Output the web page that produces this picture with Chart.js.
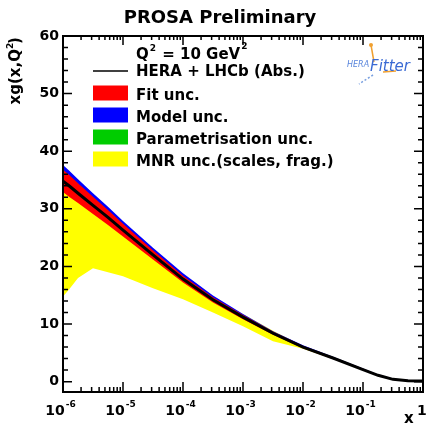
<!DOCTYPE html>
<html>
<head>
<meta charset="utf-8">
<script src="https://cdn.jsdelivr.net/npm/chart.js@4"></script>
<style>
    html, body { margin: 0; padding: 0; background: #fff; }
    #wrap { position: relative; width: 428px; height: 427px; }
</style>
</head>
<body>
<div id="wrap"><canvas id="grafico"></canvas></div>
<script>
// x grid (half decades, denser at the low-x edge)
const xs = [1e-6, 1.26e-6, 1.78e-6, 3.16e-6, 5.62e-6, 1e-5, 3.16e-5, 1e-4, 3.16e-4, 1e-3, 3.16e-3, 1e-2, 3.16e-2, 0.1, 0.178, 0.316, 0.562, 1]

const central    = [34.8, 34.0, 32.7, 30.6, 28.5, 26.3, 22.0, 17.8, 14.2, 11.2, 8.4, 6.0, 4.1, 2.1, 1.1, 0.4, 0.15, 0.1]
const fitUp      = [36.8, 35.9, 34.45, 32.1, 29.8, 27.4, 22.8, 18.4, 14.65, 11.55, 8.65, 6.2, 4.25, 2.22, 1.2, 0.5, 0.25, 0.2]
const fitDown    = [32.9, 32.1, 31.0, 29.1, 27.2, 25.2, 21.2, 17.2, 13.75, 10.85, 8.15, 5.8, 3.95, 1.98, 1.0, 0.3, 0.05, 0.0]
const modelUp    = [37.6, 36.65, 35.15, 32.7, 30.35, 27.9, 23.25, 18.8, 14.95, 11.75, 8.75, 6.3, 4.3, 2.28, 1.24, 0.54, 0.28, 0.22]
const modelDown  = [34.8, 34.0, 32.7, 30.6, 28.5, 26.3, 22.0, 17.8, 14.2, 11.2, 8.4, 6.0, 4.1, 2.1, 1.1, 0.4, 0.15, 0.1]
const parUp      = [35.2, 34.4, 33.1, 31.0, 28.9, 26.7, 22.3, 18.1, 14.4, 11.35, 8.5, 6.08, 4.15, 2.15, 1.13, 0.42, 0.17, 0.12]
const parDown    = [34.4, 33.6, 32.3, 30.2, 28.1, 25.9, 21.7, 17.5, 14.0, 11.05, 8.3, 5.92, 4.05, 2.05, 1.07, 0.38, 0.13, 0.08]
const mnrUp      = [34.8, 34.0, 32.7, 30.6, 28.5, 26.3, 22.0, 17.9, 14.5, 11.75, 8.85, 6.2, 4.2, 2.15, 1.12, 0.42, 0.16, 0.1]
const mnrDown    = [14.8, 16.0, 18.0, 19.7, 19.0, 18.3, 16.2, 14.3, 12.0, 9.6, 7.0, 5.7, 3.95, 2.0, 1.05, 0.35, 0.12, 0.08]

const yTicks = [0, 10, 20, 30, 40, 50, 60]
const xTicks = [1e-6, 1e-5, 1e-4, 1e-3, 1e-2, 1e-1, 1]
const xTickExp = ['-6', '-5', '-4', '-3', '-2', '-1', '']

const legendItems = [
    { label: 'Fit unc.', color: '#ff0000' },
    { label: 'Model unc.', color: '#0000ff' },
    { label: 'Parametrisation unc.', color: '#00cc00' },
    { label: 'MNR unc.(scales, frag.)', color: '#ffff00' }
]

const FONT = "'DejaVu Sans', 'Liberation Sans', Arial, sans-serif"

function pts(arr) {
    return xs.map((x, i) => ({ x: x, y: arr[i] }))
}

function band(up, down, color) {
    return [
        { data: pts(up), fill: '+1', backgroundColor: color, borderColor: 'transparent', borderWidth: 0 },
        { data: pts(down), fill: false, borderColor: 'transparent', borderWidth: 0 }
    ]
}

// index 0 is drawn last (on top)
const datasets = [
    { data: pts(central), borderColor: '#000', borderWidth: 3, fill: false },
    ...band(fitUp, fitDown, legendItems[0].color),
    ...band(parUp, parDown, legendItems[2].color),
    ...band(modelUp, modelDown, legendItems[1].color),
    ...band(mnrUp, mnrDown, legendItems[3].color)
]

const decor = {
    id: 'decor',
    afterDatasetsDraw(chart) {
        const { ctx, chartArea: a, scales: { x, y } } = chart
        ctx.save()
        ctx.strokeStyle = '#000'
        ctx.lineWidth = 1.5
        ctx.beginPath()
        // y ticks, both sides, pointing inward
        for (let v = 0; v <= 60; v += 2) {
            const py = y.getPixelForValue(v)
            const len = v % 10 === 0 ? 9 : 5
            ctx.moveTo(a.left, py); ctx.lineTo(a.left + len, py)
            ctx.moveTo(a.right, py); ctx.lineTo(a.right - len, py)
        }
        // x ticks, bottom and top
        for (let d = -6; d < 0; d++) {
            for (let m = 1; m < 10; m++) {
                const px = x.getPixelForValue(m * Math.pow(10, d))
                const len = m === 1 ? 10 : 5
                ctx.moveTo(px, a.bottom); ctx.lineTo(px, a.bottom - len)
                ctx.moveTo(px, a.top); ctx.lineTo(px, a.top + len - 1)
            }
        }
        ctx.stroke()
        ctx.lineWidth = 2
        ctx.strokeRect(a.left, a.top, a.right - a.left, a.bottom - a.top)

        ctx.fillStyle = '#000'
        // x tick labels 10^n
        xTicks.forEach((v, i) => {
            const px = x.getPixelForValue(v)
            const exp = xTickExp[i]
            ctx.textBaseline = 'alphabetic'
            ctx.textAlign = 'left'
            if (!exp) {
                ctx.font = 'bold 14px ' + FONT
                ctx.fillText('1', px - 6, 415)
                return
            }
            ctx.font = 'bold 14px ' + FONT
            const w10 = ctx.measureText('10').width
            ctx.font = 'bold 9px ' + FONT
            const wExp = ctx.measureText(exp).width
            const start = px - (w10 + wExp) / 2 - 3
            ctx.font = 'bold 14px ' + FONT
            ctx.fillText('10', start, 415)
            ctx.font = 'bold 9px ' + FONT
            ctx.fillText(exp, start + w10 + 1, 407)
        })

        // axis titles
        ctx.font = 'bold 15px ' + FONT
        ctx.fillText('x', 404, 423)
        ctx.save()
        ctx.translate(20, 37)
        ctx.rotate(-Math.PI / 2)
        ctx.textAlign = 'right'
        ctx.fillText('xg(x,Q', -12, 0)
        ctx.textAlign = 'left'
        ctx.fillText(')', -7, 0)
        ctx.font = 'bold 9px ' + FONT
        ctx.fillText('2', -12, -7)
        ctx.restore()

        // title
        ctx.font = 'bold 18px ' + FONT
        ctx.textAlign = 'center'
        ctx.fillText('PROSA Preliminary', 220, 23)

        // legend
        ctx.textAlign = 'left'
        ctx.font = 'bold 15px ' + FONT
        let tx = 136
        ctx.fillText('Q', tx, 59)
        tx += ctx.measureText('Q').width
        ctx.font = 'bold 9px ' + FONT
        ctx.fillText('2', tx + 1, 51)
        tx += ctx.measureText('2').width + 2
        ctx.font = 'bold 15px ' + FONT
        ctx.fillText(' = 10 GeV', tx, 59)
        tx += ctx.measureText(' = 10 GeV').width
        ctx.font = 'bold 9px ' + FONT
        ctx.fillText('2', tx + 1, 49)

        ctx.font = 'bold 15px ' + FONT
        ctx.lineWidth = 1.5
        ctx.beginPath()
        ctx.moveTo(93, 71); ctx.lineTo(128, 71)
        ctx.stroke()
        ctx.fillText('HERA + LHCb (Abs.)', 136, 76)
        legendItems.forEach((it, i) => {
            const top = 85.5 + i * 22
            ctx.fillStyle = it.color
            ctx.fillRect(93, top, 35, 15)
            ctx.fillStyle = '#000'
            ctx.fillText(it.label, 136, top + 14)
        })

        // HERAFitter mark
        ctx.strokeStyle = '#f0a030'
        ctx.lineWidth = 1.5
        ctx.beginPath()
        ctx.moveTo(371, 45); ctx.lineTo(374, 62)
        ctx.moveTo(383, 72); ctx.lineTo(396, 71)
        ctx.stroke()
        ctx.fillStyle = '#f0a030'
        ctx.beginPath(); ctx.arc(371, 45, 2, 0, Math.PI * 2); ctx.fill()
        ctx.strokeStyle = '#7aa0e0'
        ctx.setLineDash([2, 2])
        ctx.beginPath()
        ctx.moveTo(373, 75); ctx.lineTo(359, 84)
        ctx.stroke()
        ctx.setLineDash([])
        ctx.fillStyle = '#5a86dc'
        ctx.font = 'oblique 8px ' + FONT
        ctx.fillText('HERA', 347, 67)
        ctx.fillStyle = '#3a6ad4'
        ctx.font = 'oblique 15px ' + FONT
        ctx.fillText('Fitter', 370, 71)
        ctx.restore()
    }
}

const ctx = document.getElementById('grafico')

new Chart(ctx, {
    type: 'line',
    data: { datasets: datasets },
    options: {
        responsive: true,
        maintainAspectRatio: false,
        animation: false,
        layout: { padding: { top: 36, right: 5, left: 0, bottom: 0 } },
        elements: { point: { radius: 0 }, line: { tension: 0 } },
        plugins: {
            legend: { display: false },
            tooltip: { enabled: false },
            title: { display: false }
        },
        scales: {
            x: {
                type: 'logarithmic',
                min: 1e-6,
                max: 1,
                grid: { display: false },
                border: { display: false },
                ticks: { display: false },
                afterFit(s) { s.height = 35 }
            },
            y: {
                type: 'linear',
                min: -1.8,
                max: 60,
                grid: { display: false, drawTicks: false },
                border: { display: false },
                ticks: {
                    color: '#000',
                    padding: 4,
                    font: { family: FONT, size: 14, weight: 'bold' }
                },
                afterBuildTicks(s) { s.ticks = yTicks.map(v => ({ value: v })) },
                afterFit(s) { s.width = 63 }
            }
        }
    },
    plugins: [decor]
})
</script>
</body>
</html>
